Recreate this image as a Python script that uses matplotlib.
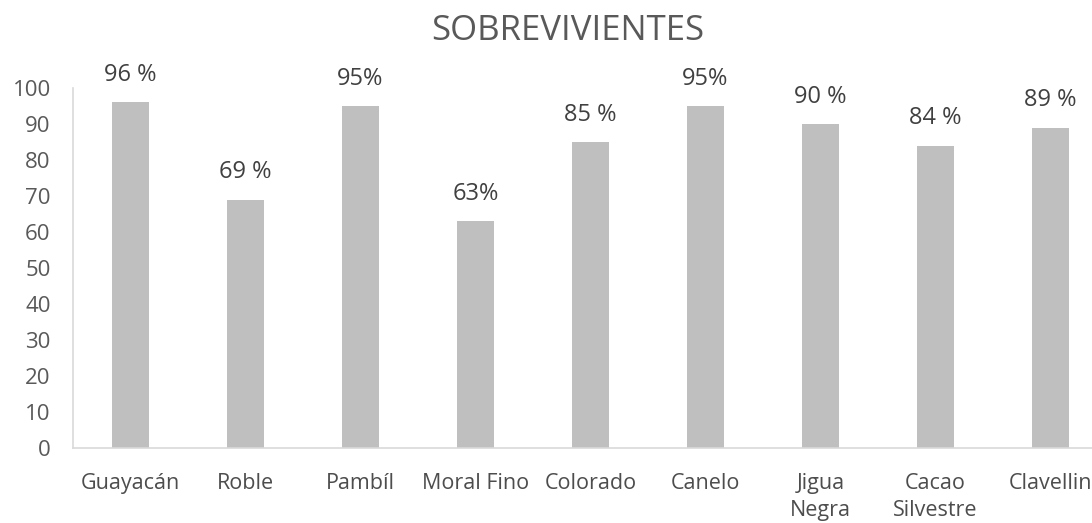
import matplotlib.pyplot as plt
import numpy as np

plt.rcParams['font.family'] = ['Open Sans', 'DejaVu Sans']

species = ["Guayacán", "Roble", "Pambíl", "Moral Fino", "Colorado",
           "Canelo", "Jigua\nNegra", "Cacao\nSilvestre", "Clavellin"]
survival = [96, 69, 95, 63, 85, 95, 90, 84, 89]
labels = ["96 %", "69 %", "95%", "63%", "85 %", "95%", "90 %", "84 %", "89 %"]

fig = plt.figure(figsize=(10.92, 5.23), dpi=100)
ax = fig.add_axes([0.0668, 0.1434, 0.9479, 0.6883])

x = np.arange(len(species))
bars = ax.bar(x, survival, width=0.32, color="#bfbfbf")

for xi, v, lab in zip(x, survival, labels):
    ax.annotate(lab, (xi, v), xytext=(0, 11), textcoords="offset points",
                ha="center", va="bottom", fontsize=17, color="#404040")

ax.set_xlim(-0.5, len(species) - 0.5)
ax.set_ylim(0, 100)
ax.set_yticks(range(0, 101, 10))
ax.set_xticks(x)
ax.set_xticklabels(species, fontsize=15.5, color="#4d4d4d", linespacing=1.4)
ax.tick_params(axis="y", length=0, pad=16, labelsize=16, labelcolor="#595959")
ax.tick_params(axis="x", length=0, pad=18)

for s in ["top", "right"]:
    ax.spines[s].set_visible(False)
ax.spines["left"].set_color("#d9d9d9")
ax.spines["bottom"].set_color("#d9d9d9")
ax.spines["left"].set_linewidth(1.2)
ax.spines["bottom"].set_linewidth(1.2)

# title sits a bit left of the axes centre in the original
fig.text(568 / 1092, 1 - 31 / 523, "SOBREVIVIENTES", fontsize=25,
         color="#595959", ha="center", va="center")

fig.savefig("out.png", dpi=100)
